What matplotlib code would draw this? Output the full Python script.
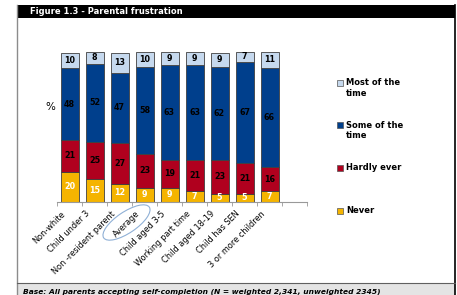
import numpy as np
import matplotlib
matplotlib.use('Agg')
import matplotlib.pyplot as plt
import matplotlib.transforms as mtransforms
from matplotlib.patches import Rectangle, Ellipse

# Данные
categories = ['Non-white', 'Child under 3', 'Non -resident parent', 'Average',
              'Child aged 3-5', 'Working part time', 'Child aged 18-19',
              'Child has SEN', '3 or more children']
never = [20, 15, 12, 9, 9, 7, 5, 5, 7]
hardly_ever = [21, 25, 27, 23, 19, 21, 23, 21, 16]
some_time = [48, 52, 47, 58, 63, 63, 62, 67, 66]
most_time = [10, 8, 13, 10, 9, 9, 9, 7, 11]

series_names = ['Never', 'Hardly ever', 'Some of the\ntime', 'Most of the\ntime']
series_values = [never, hardly_ever, some_time, most_time]
series_colors = ['#f5b400', '#b0001e', '#003f8c', '#c6d9ee']
text_colors = ['white', 'black', 'black', 'black']

title = 'Figure 1.3 - Parental frustration'
footer = 'Base: All parents accepting self-completion (N = weighted 2,341, unweighted 2345)'

W, H = 457, 295
fig = plt.figure(figsize=(W / 100, H / 100), dpi=100)
fig.patch.set_facecolor('white')

# Рамка, заголовок и подвал
fig.add_artist(plt.Line2D([17 / W, 17 / W], [0, 1 - 5 / H], transform=fig.transFigure,
                          color='#8c8c8c', lw=1.0))
fig.add_artist(plt.Line2D([455 / W, 455 / W], [0, 1 - 5 / H], transform=fig.transFigure,
                          color='black', lw=1.2))
fig.add_artist(Rectangle((17 / W, 1 - 18 / H), (455 - 17) / W, 13 / H, transform=fig.transFigure,
                         facecolor='black', edgecolor='none'))
fig.text(30 / W, 1 - 11.5 / H, title, color='white', fontsize=6.0, fontweight='bold',
         va='center', ha='left')
fig.add_artist(Rectangle((17 / W, 0), (455 - 17) / W, 1 - 283 / H, transform=fig.transFigure,
                         facecolor='#e4e4e4', edgecolor='none'))
fig.add_artist(plt.Line2D([17 / W, 455 / W], [1 - 283 / H, 1 - 283 / H], transform=fig.transFigure,
                          color='#606060', lw=0.8))
fig.text(23 / W, 1 - 292 / H, footer, color='black', fontsize=5.4, fontweight='bold',
         style='italic', va='center', ha='left')

# Основной график
ax = fig.add_axes([57 / W, 1 - 201.7 / H, 250 / W, 150 / H])
x = np.arange(len(categories))
bottom = np.zeros(len(categories))
for vals, color, tcol in zip(series_values, series_colors, text_colors):
    vals = np.array(vals)
    ax.bar(x, vals, width=0.72, bottom=bottom, color=color, edgecolor='#404040', linewidth=0.6)
    for xi, b, v in zip(x, bottom, vals):
        ax.text(xi, b + v / 2, str(v), ha='center', va='center', color=tcol,
                fontsize=5.8, fontweight='bold')
    bottom += vals

ax.set_xlim(-0.5, 9.5)
ax.set_ylim(0, 100)
ax.set_yticks([])
for s in ['top', 'right', 'left']:
    ax.spines[s].set_visible(False)
ax.spines['bottom'].set_color('#999999')
ax.set_xticks(x)
ax.set_xticklabels(categories, rotation=45, ha='right', rotation_mode='anchor', fontsize=5.9)
ax.tick_params(axis='x', which='major', length=0, pad=4)
shift = mtransforms.ScaledTranslation(-6.5 / 72, -1.5 / 72, fig.dpi_scale_trans)
for lbl in ax.get_xticklabels():
    lbl.set_transform(lbl.get_transform() + shift)
ax.set_xticks(np.arange(-0.5, 10, 1), minor=True)
ax.tick_params(axis='x', which='minor', length=3, color='#999999')
ax.text(-0.005, 0.63, '%', transform=ax.transAxes, ha='right', va='center', fontsize=7.5)

# Выделение "Average"
fig.add_artist(Ellipse((1.265, (H - 222.5) / 100), 0.55, 0.21, angle=34,
                       transform=fig.dpi_scale_trans, facecolor='none',
                       edgecolor='#8fb0d6', lw=0.8))

# Легенда
legend_y = [82.7, 125, 167.7, 210.7]
order = [3, 2, 1, 0]
for ly, i in zip(legend_y, order):
    fig.add_artist(Rectangle((337 / W, 1 - (ly + 3) / H), 6 / W, 6 / H, transform=fig.transFigure,
                             facecolor=series_colors[i], edgecolor='#555555', lw=0.5))
    fig.text(346 / W, 1 - (ly - 4.5) / H, series_names[i], fontsize=6, fontweight='bold',
             va='top', ha='left', linespacing=1.2)

plt.savefig('out.png', dpi=100)
